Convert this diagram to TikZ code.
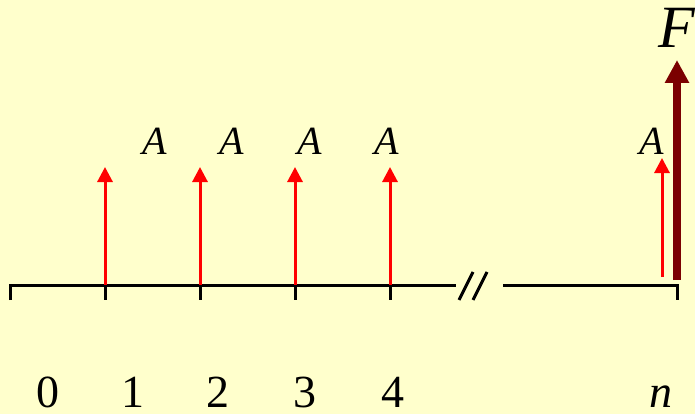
\documentclass[tikz,border=0pt]{standalone}
\usepackage{fontspec}
\setmainfont{Liberation Serif}
\usetikzlibrary{arrows.meta}
\definecolor{bgyellow}{RGB}{255,255,204}
\definecolor{fdark}{RGB}{123,0,0}

\begin{document}
\begin{tikzpicture}[x=1pt,y=-1pt,axis/.style={line width=3pt},
  arr/.style={-{Triangle[length=15pt,width=15pt]},line width=3pt,red},
  big/.style={-{Triangle[length=23pt,width=23pt]},line width=8pt,fdark},
  num/.style={anchor=base,inner sep=0pt,font=\fontsize{46}{48}\selectfont},
  lab/.style={anchor=base,inner sep=0pt,font=\fontsize{40}{42}\selectfont\itshape}]
\fill[bgyellow] (0,0) rectangle (695,414);
\useasboundingbox (0,0) rectangle (695,414);
\coordinate (t0) at (10,285);\coordinate (t1) at (105,285);\coordinate (t2) at (200,285);
\coordinate (t3) at (295,285);\coordinate (t4) at (390,285);\coordinate (cut) at (456,285);
\coordinate (rest) at (503,285);\coordinate (tn) at (677,285);
\draw[axis] ([yshift=-15pt]t0)--(t0)--(cut);\draw[axis] (rest)--(tn)--([yshift=-15pt]tn);
\draw[axis] (t1)--([yshift=-15pt]t1);\draw[axis] (t2)--([yshift=-15pt]t2);
\draw[axis] (t3)--([yshift=-15pt]t3);\draw[axis] (t4)--([yshift=-15pt]t4);
\draw[axis] (459,300)--(473,272);\draw[axis] (473,300)--(487,272);
\coordinate (p1) at (105,167);\coordinate (p2) at (200,167);\coordinate (p3) at (295,167);
\coordinate (p4) at (390,167);\coordinate (pn) at (662,158);\coordinate (fbase) at (677,280);
\coordinate (ftop) at (677,60);
\draw[arr] (t1)--(p1);\draw[arr] (t2)--(p2);\draw[arr] (t3)--(p3);\draw[arr] (t4)--(p4);
\draw[arr] (662,277)--(pn);
\draw[big] (fbase)--(ftop);
\node[lab] (a1) at (155,155) {A};\node[lab] (a2) at (232,155) {A};
\node[lab] (a3) at (310,155) {A};\node[lab] (a4) at (387,155) {A};
\node[lab] (an) at (652,155) {A};
\node[lab,font=\fontsize{60}{62}\selectfont\itshape] (f) at (677,48) {F};
\node[num] (l0) at (48,407) {0};\node[num] (l1) at (133,407) {1};\node[num] (l2) at (218,407) {2};
\node[num] (l3) at (305,407) {3};\node[num] (l4) at (393,407) {4};
\node[num,font=\fontsize{46}{48}\selectfont\itshape] (ln) at (661,407) {n};
\end{tikzpicture}
\end{document}
